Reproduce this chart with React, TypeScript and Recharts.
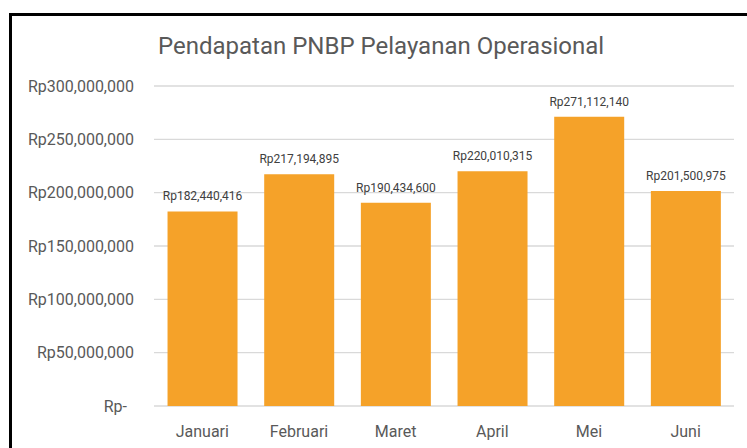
import React from 'react';
import { BarChart, Bar, XAxis, YAxis, CartesianGrid, LabelList } from 'recharts';

const months = ['Januari', 'Februari', 'Maret', 'April', 'Mei', 'Juni'];
const revenue = [182440416, 217194895, 190434600, 220010315, 271112140, 201500975];
const yTicks = [0, 50000000, 100000000, 150000000, 200000000, 250000000, 300000000];

const data = months.map((month, i) => ({ month, value: revenue[i] }));

const rupiah = (v: number) => (v === 0 ? 'Rp-' : 'Rp' + v.toLocaleString('en-US'));

const YTick = ({ x, y, payload }: any) => (
  <text
    x={payload.value === 0 ? x - 7 : x}
    y={y}
    dy="0.355em"
    textAnchor="end"
    fill="#595959"
    fontSize={16}
    fontFamily="Roboto"
  >
    {rupiah(payload.value)}
  </text>
);

export default function App() {
  return (
    <div style={{ position: 'absolute', left: 0, top: 0, width: 747, height: 448, overflow: 'hidden', background: '#fff' }}>
      {/* frame */}
      <div
        style={{
          position: 'absolute',
          left: 9,
          top: 13,
          width: 800,
          height: 500,
          border: '3px solid #000',
          boxSizing: 'border-box',
        }}
      />
      <div
        style={{
          position: 'absolute',
          left: 158,
          top: 34,
          fontFamily: 'Roboto',
          fontSize: 24,
          lineHeight: '24px',
          color: '#595959',
          whiteSpace: 'nowrap',
        }}
      >
        Pendapatan PNBP Pelayanan Operasional
      </div>
      <div style={{ position: 'absolute', left: 0, top: 0 }}>
        <BarChart
          width={747}
          height={448}
          data={data}
          margin={{ top: 86, right: 13, bottom: 12, left: 0 }}
          barCategoryGap="14%"
        >
          <CartesianGrid vertical={false} stroke="#d9d9d9" strokeWidth={1.3} />
          <XAxis
            dataKey="month"
            height={30}
            axisLine={false}
            tickLine={false}
            tickSize={0}
            tickMargin={20}
            tick={{ fill: '#595959', fontSize: 16, fontFamily: 'Roboto' }}
          />
          <YAxis
            width={154}
            domain={[0, 300000000]}
            ticks={yTicks}
            axisLine={false}
            tickLine={false}
            tickSize={0}
            tickMargin={20}
            tick={<YTick />}
          />
          <Bar dataKey="value" fill="#F5A229" isAnimationActive={false}>
            <LabelList
              dataKey="value"
              position="top"
              offset={11}
              formatter={(v: any) => rupiah(Number(v))}
              fill="#404040"
              fontSize={12}
              fontFamily="Roboto"
            />
          </Bar>
        </BarChart>
      </div>
    </div>
  );
}
